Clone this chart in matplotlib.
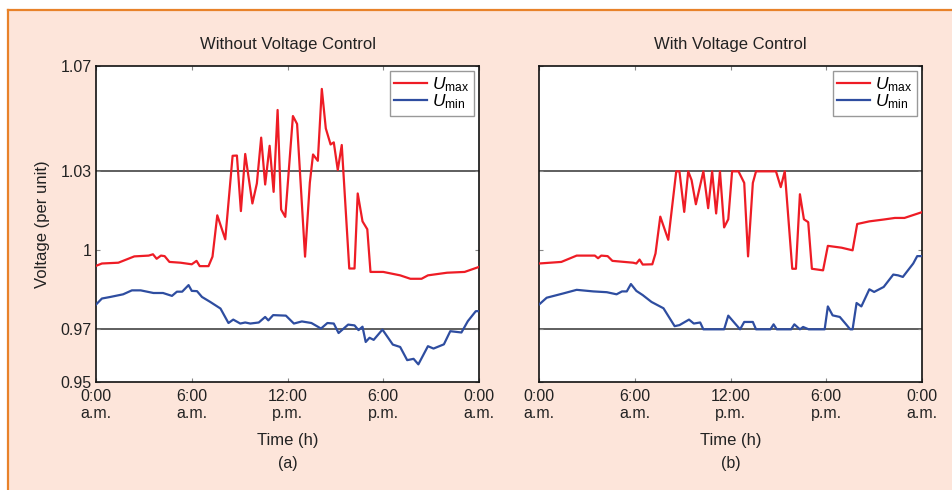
import matplotlib
matplotlib.use("Agg")
import matplotlib.pyplot as plt
from matplotlib.patches import Rectangle

plt.rcParams['font.family'] = ['Liberation Sans', 'DejaVu Sans']
plt.rcParams['mathtext.fontset'] = 'custom'
plt.rcParams['mathtext.rm'] = 'Liberation Sans'
plt.rcParams['mathtext.it'] = 'Liberation Sans:italic'

# ---- data: (a) without voltage control ----
t_max_a = [0, 0.37, 1.4, 2.4, 3.3, 3.57, 3.8, 4.07, 4.3, 4.6, 5.3, 6.0, 6.3, 6.5, 7.05, 7.3, 7.6,
           8.1, 8.56, 8.83, 9.08, 9.35, 9.8, 10.08, 10.35, 10.6, 10.88, 11.13, 11.38, 11.6, 11.86,
           12.34, 12.6, 13.1, 13.4, 13.6, 13.9, 14.15, 14.4, 14.7, 14.9, 15.15, 15.4, 15.87, 16.2,
           16.4, 16.7, 17.0, 17.2, 18.0, 19.06, 19.7, 20.4, 20.8, 22.0, 23.1, 24.0]
u_max_a = [0.9941, 0.995, 0.9953, 0.9977, 0.998, 0.9985, 0.9968, 0.998, 0.9978, 0.9956, 0.9953,
           0.9947, 0.996, 0.994, 0.994, 0.9976, 1.0133, 1.0042, 1.0359, 1.036, 1.0149, 1.0366,
           1.0178, 1.0254, 1.0428, 1.025, 1.0397, 1.0222, 1.0533, 1.0155, 1.0127, 1.051, 1.048,
           0.9976, 1.0257, 1.0364, 1.034, 1.0613, 1.0463, 1.0402, 1.041, 1.0305, 1.04, 0.9931,
           0.9931, 1.0216, 1.011, 1.008, 0.9918, 0.9918, 0.9905, 0.9892, 0.9892, 0.9905, 0.9915,
           0.9918, 0.9937]

t_min_a = [0, 0.37, 0.9, 1.7, 2.25, 2.8, 3.6, 4.2, 4.76, 5.07, 5.4, 5.8, 6.0, 6.33, 6.64, 7.16,
           7.8, 8.3, 8.6, 9.04, 9.35, 9.67, 10.2, 10.6, 10.8, 11.1, 11.9, 12.4, 12.9, 13.5, 14.1,
           14.5, 14.9, 15.2, 15.8, 16.2, 16.45, 16.7, 16.9, 17.14, 17.4, 17.95, 18.6, 19.06, 19.5,
           19.9, 20.2, 20.8, 21.15, 21.8, 22.2, 22.9, 23.3, 23.8, 24.0]
u_min_a = [0.9794, 0.9817, 0.9823, 0.9833, 0.9848, 0.9848, 0.9838, 0.9838, 0.9827, 0.9843,
           0.9843, 0.9868, 0.9846, 0.9845, 0.9823, 0.9804, 0.9779, 0.9724, 0.9737, 0.9722,
           0.9726, 0.9722, 0.9726, 0.9747, 0.9734, 0.9754, 0.9752, 0.9722, 0.973, 0.9724,
           0.9703, 0.9724, 0.9722, 0.9686, 0.9718, 0.9715, 0.9697, 0.971, 0.9652, 0.9668,
           0.966, 0.9699, 0.9642, 0.9633, 0.9583, 0.9588, 0.9567, 0.9636, 0.9627, 0.9643,
           0.9693, 0.9688, 0.9731, 0.9769, 0.9769]

# ---- data: (b) with voltage control ----
t_max_b = [0, 1.4, 2.36, 3.5, 3.7, 3.9, 4.3, 4.6, 5.9, 6.1, 6.3, 6.5, 7.1, 7.3, 7.6, 8.1, 8.6,
           8.8, 9.1, 9.35, 9.56, 9.83, 10.3, 10.6, 10.85, 11.1, 11.34, 11.6, 11.86, 12.1, 12.5,
           12.86, 13.1, 13.4, 13.6, 14.85, 15.15, 15.4, 15.87, 16.1, 16.35, 16.6, 16.87, 17.1,
           17.8, 18.1, 18.96, 19.65, 19.94, 20.7, 21.6, 22.3, 22.9, 24.0]
u_max_b = [0.995, 0.9956, 0.998, 0.998, 0.997, 0.998, 0.9978, 0.996, 0.9953, 0.995, 0.9965,
           0.9946, 0.9947, 0.9988, 1.0128, 1.004, 1.03, 1.03, 1.0146, 1.03, 1.0267, 1.0175, 1.03,
           1.016, 1.03, 1.014, 1.03, 1.0087, 1.0118, 1.03, 1.03, 1.0256, 0.9977, 1.0256, 1.03,
           1.03, 1.024, 1.03, 0.993, 0.993, 1.0213, 1.0118, 1.0107, 0.993, 0.9924, 1.0017,
           1.001, 1.0, 1.01, 1.011, 1.0117, 1.0123, 1.0123, 1.0145]

t_min_b = [0, 0.48, 1.5, 2.36, 3.4, 4.25, 4.86, 5.2, 5.5, 5.76, 6.1, 6.5, 7.05, 7.8, 8.5, 8.8,
           9.4, 9.7, 10.1, 10.3, 11.6, 11.86, 12.2, 12.6, 12.86, 13.4, 13.6, 14.5, 14.7, 14.9,
           15.8, 16.0, 16.35, 16.55, 16.9, 17.9, 18.1, 18.4, 18.85, 19.2, 19.5, 19.65, 19.9,
           20.2, 20.7, 21.0, 21.6, 22.2, 22.5, 22.8, 23.45, 23.7, 24.0]
u_min_b = [0.9794, 0.982, 0.9836, 0.985, 0.9844, 0.9841, 0.9833, 0.9844, 0.9844, 0.9872,
           0.9846, 0.983, 0.9804, 0.978, 0.9712, 0.9716, 0.9737, 0.9722, 0.9726, 0.970, 0.970,
           0.9752, 0.9728, 0.970, 0.9728, 0.9728, 0.970, 0.970, 0.9719, 0.970, 0.970, 0.9719,
           0.970, 0.9709, 0.970, 0.970, 0.9787, 0.9753, 0.9747, 0.9722, 0.970, 0.970, 0.980,
           0.9787, 0.9852, 0.9842, 0.9861, 0.9908, 0.9905, 0.9899, 0.995, 0.9978, 0.9978]

x_ticks = [0, 6, 12, 18, 24]
x_ticklabels = ['0:00\na.m.', '6:00\na.m.', '12:00\np.m.', '6:00\np.m.', '0:00\na.m.']
y_ticks = [0.95, 0.97, 1.0, 1.03, 1.07]
y_ticklabels = ['0.95', '0.97', '1', '1.03', '1.07']
limits = [0.97, 1.03]
titles = ['Without Voltage Control', 'With Voltage Control']
panel_tags = ['(a)', '(b)']

RED = '#ee1c25'
BLUE = '#2e4da0'
PEACH = '#fde5da'
ORANGE = '#e8822a'
TXT = '#222222'
FS = 11.5

fig = plt.figure(figsize=(9.52, 4.9), dpi=100, facecolor='white')
fig.patches.append(Rectangle((8 / 952, 0), 1.0, 1 - 10 / 490, transform=fig.transFigure,
                             facecolor=PEACH, edgecolor='none', zorder=-10))
fig.add_artist(plt.Line2D([8 / 952, 1.0], [1 - 10 / 490, 1 - 10 / 490], color=ORANGE, lw=1.6,
                          transform=fig.transFigure))
fig.add_artist(plt.Line2D([8 / 952, 8 / 952], [0, 1 - 10 / 490], color=ORANGE, lw=1.6,
                          transform=fig.transFigure))

ax_w = 383 / 952
ax_h = 316 / 490
bottom = 1 - 382 / 490
lefts = [96 / 952, 539 / 952]

data = [(t_max_a, u_max_a, t_min_a, u_min_a), (t_max_b, u_max_b, t_min_b, u_min_b)]

for i in range(2):
    ax = fig.add_axes([lefts[i], bottom, ax_w, ax_h])
    ax.set_facecolor('white')
    tm, um, tn, un = data[i]
    for lv in limits:
        ax.axhline(lv, color='#333333', lw=1.1, zorder=1)
    ax.plot(tm, um, color=RED, lw=1.6, label='$U_{\\mathrm{max}}$', zorder=3)
    ax.plot(tn, un, color=BLUE, lw=1.6, label='$U_{\\mathrm{min}}$', zorder=3)
    ax.set_xlim(0, 24)
    ax.set_ylim(0.95, 1.07)
    ax.set_xticks(x_ticks)
    ax.set_xticklabels(x_ticklabels, fontsize=FS, color=TXT, linespacing=1.2)
    ax.set_yticks(y_ticks)
    if i == 0:
        ax.set_yticklabels(y_ticklabels, fontsize=FS, color=TXT)
    else:
        ax.set_yticklabels([])
    ax.tick_params(axis='y', direction='in', length=3, width=0.8, color='#888888', right=True,
                   pad=3)
    ax.tick_params(axis='x', direction='in', length=3, width=0.8, color='#888888', top=True,
                   pad=5)
    for s in ax.spines.values():
        s.set_linewidth(1.2)
        s.set_color('#111111')
    ax.set_title(titles[i], fontsize=12, color=TXT, pad=12)
    leg = ax.legend(loc='upper right', fontsize=12.5, handlelength=1.9, handletextpad=0.3,
                    labelspacing=-0.1, borderpad=0.25, borderaxespad=0.3, fancybox=False,
                    framealpha=1, edgecolor='#999999')
    leg.get_frame().set_linewidth(1.0)
    cx = lefts[i] + ax_w / 2
    fig.text(cx, 1 - 440 / 490, 'Time (h)', ha='center', va='center', fontsize=12, color=TXT)
    fig.text(cx, 1 - 463 / 490, panel_tags[i], ha='center', va='center', fontsize=FS, color=TXT)

fig.text(43 / 952, 1 - 224 / 490, 'Voltage (per unit)', rotation=90, ha='center', va='center',
         fontsize=12, color=TXT)

fig.savefig('out.png', dpi=100, facecolor='white')
